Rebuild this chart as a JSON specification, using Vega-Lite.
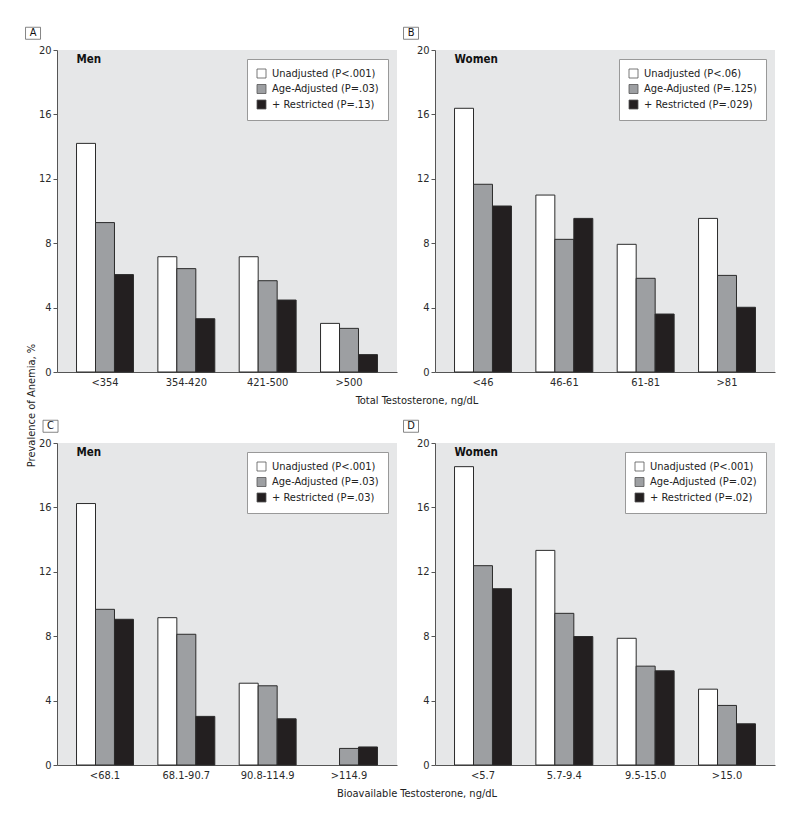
{
  "$schema": "https://vega.github.io/schema/vega-lite/v6.json",
  "autosize": {"type": "pad"},
  "padding": {"left": 23, "top": 25, "right": 5, "bottom": 5},
  "background": "white",
  "bounds": "flush",
  "columns": 2,
  "spacing": {"row": 71, "column": 38},
  "config": {
    "font": "DejaVu Sans Condensed, Liberation Sans, sans-serif",
    "view": {"fill": "#e6e7e8", "stroke": null},
    "axis": {"labelFont": "DejaVu Sans Condensed, Liberation Sans, sans-serif", "titleFont": "DejaVu Sans Condensed, Liberation Sans, sans-serif", "labelFontSize": 11, "labelColor": "#2a2a2a", "domainColor": "#555", "tickColor": "#555", "grid": false, "titleFontWeight": "normal", "titleFontSize": 11, "titleColor": "#222"},
    "axisX": {"labelAngle": 0, "ticks": false, "labelPadding": 4},
    "axisY": {"tickSize": 4, "labelPadding": 2},
    "legend": {"orient": "top-right", "offset": 9, "padding": 9, "fillColor": "white", "strokeColor": "#999", "symbolType": "square", "symbolSize": 81, "symbolStrokeColor": "#555", "symbolStrokeWidth": 0.8, "labelFontSize": 11, "labelFont": "DejaVu Sans Condensed, Liberation Sans, sans-serif", "labelOffset": 5, "rowPadding": 2.5, "labelColor": "#222"}
  },
  "data": {"values": [
    {"panel": "A", "group": "<354", "series": "Unadjusted", "label": "Unadjusted (P<.001)", "value": 14.2},
    {"panel": "A", "group": "<354", "series": "Age-Adjusted", "label": "Age-Adjusted (P=.03)", "value": 9.28},
    {"panel": "A", "group": "<354", "series": "Restricted", "label": "+ Restricted (P=.13)", "value": 6.05},
    {"panel": "A", "group": "354-420", "series": "Unadjusted", "label": "Unadjusted (P<.001)", "value": 7.16},
    {"panel": "A", "group": "354-420", "series": "Age-Adjusted", "label": "Age-Adjusted (P=.03)", "value": 6.42},
    {"panel": "A", "group": "354-420", "series": "Restricted", "label": "+ Restricted (P=.13)", "value": 3.31},
    {"panel": "A", "group": "421-500", "series": "Unadjusted", "label": "Unadjusted (P<.001)", "value": 7.16},
    {"panel": "A", "group": "421-500", "series": "Age-Adjusted", "label": "Age-Adjusted (P=.03)", "value": 5.67},
    {"panel": "A", "group": "421-500", "series": "Restricted", "label": "+ Restricted (P=.13)", "value": 4.47},
    {"panel": "A", "group": ">500", "series": "Unadjusted", "label": "Unadjusted (P<.001)", "value": 3.02},
    {"panel": "A", "group": ">500", "series": "Age-Adjusted", "label": "Age-Adjusted (P=.03)", "value": 2.71},
    {"panel": "A", "group": ">500", "series": "Restricted", "label": "+ Restricted (P=.13)", "value": 1.08},
    {"panel": "B", "group": "<46", "series": "Unadjusted", "label": "Unadjusted (P<.06)", "value": 16.38},
    {"panel": "B", "group": "<46", "series": "Age-Adjusted", "label": "Age-Adjusted (P=.125)", "value": 11.66},
    {"panel": "B", "group": "<46", "series": "Restricted", "label": "+ Restricted (P=.029)", "value": 10.31},
    {"panel": "B", "group": "46-61", "series": "Unadjusted", "label": "Unadjusted (P<.06)", "value": 10.99},
    {"panel": "B", "group": "46-61", "series": "Age-Adjusted", "label": "Age-Adjusted (P=.125)", "value": 8.24},
    {"panel": "B", "group": "46-61", "series": "Restricted", "label": "+ Restricted (P=.029)", "value": 9.54},
    {"panel": "B", "group": "61-81", "series": "Unadjusted", "label": "Unadjusted (P<.06)", "value": 7.93},
    {"panel": "B", "group": "61-81", "series": "Age-Adjusted", "label": "Age-Adjusted (P=.125)", "value": 5.82},
    {"panel": "B", "group": "61-81", "series": "Restricted", "label": "+ Restricted (P=.029)", "value": 3.6},
    {"panel": "B", "group": ">81", "series": "Unadjusted", "label": "Unadjusted (P<.06)", "value": 9.54},
    {"panel": "B", "group": ">81", "series": "Age-Adjusted", "label": "Age-Adjusted (P=.125)", "value": 6.0},
    {"panel": "B", "group": ">81", "series": "Restricted", "label": "+ Restricted (P=.029)", "value": 4.02},
    {"panel": "C", "group": "<68.1", "series": "Unadjusted", "label": "Unadjusted (P<.001)", "value": 16.24},
    {"panel": "C", "group": "<68.1", "series": "Age-Adjusted", "label": "Age-Adjusted (P=.03)", "value": 9.67},
    {"panel": "C", "group": "<68.1", "series": "Restricted", "label": "+ Restricted (P=.03)", "value": 9.05},
    {"panel": "C", "group": "68.1-90.7", "series": "Unadjusted", "label": "Unadjusted (P<.001)", "value": 9.15},
    {"panel": "C", "group": "68.1-90.7", "series": "Age-Adjusted", "label": "Age-Adjusted (P=.03)", "value": 8.12},
    {"panel": "C", "group": "68.1-90.7", "series": "Restricted", "label": "+ Restricted (P=.03)", "value": 3.02},
    {"panel": "C", "group": "90.8-114.9", "series": "Unadjusted", "label": "Unadjusted (P<.001)", "value": 5.08},
    {"panel": "C", "group": "90.8-114.9", "series": "Age-Adjusted", "label": "Age-Adjusted (P=.03)", "value": 4.92},
    {"panel": "C", "group": "90.8-114.9", "series": "Restricted", "label": "+ Restricted (P=.03)", "value": 2.87},
    {"panel": "C", "group": ">114.9", "series": "Age-Adjusted", "label": "Age-Adjusted (P=.03)", "value": 1.03},
    {"panel": "C", "group": ">114.9", "series": "Restricted", "label": "+ Restricted (P=.03)", "value": 1.12},
    {"panel": "D", "group": "<5.7", "series": "Unadjusted", "label": "Unadjusted (P<.001)", "value": 18.53},
    {"panel": "D", "group": "<5.7", "series": "Age-Adjusted", "label": "Age-Adjusted (P=.02)", "value": 12.38},
    {"panel": "D", "group": "<5.7", "series": "Restricted", "label": "+ Restricted (P=.02)", "value": 10.95},
    {"panel": "D", "group": "5.7-9.4", "series": "Unadjusted", "label": "Unadjusted (P<.001)", "value": 13.33},
    {"panel": "D", "group": "5.7-9.4", "series": "Age-Adjusted", "label": "Age-Adjusted (P=.02)", "value": 9.42},
    {"panel": "D", "group": "5.7-9.4", "series": "Restricted", "label": "+ Restricted (P=.02)", "value": 7.98},
    {"panel": "D", "group": "9.5-15.0", "series": "Unadjusted", "label": "Unadjusted (P<.001)", "value": 7.87},
    {"panel": "D", "group": "9.5-15.0", "series": "Age-Adjusted", "label": "Age-Adjusted (P=.02)", "value": 6.14},
    {"panel": "D", "group": "9.5-15.0", "series": "Restricted", "label": "+ Restricted (P=.02)", "value": 5.85},
    {"panel": "D", "group": ">15.0", "series": "Unadjusted", "label": "Unadjusted (P<.001)", "value": 4.71},
    {"panel": "D", "group": ">15.0", "series": "Age-Adjusted", "label": "Age-Adjusted (P=.02)", "value": 3.7},
    {"panel": "D", "group": ">15.0", "series": "Restricted", "label": "+ Restricted (P=.02)", "value": 2.56}
  ]},
  "resolve": {"scale": {"fill": "independent"}, "legend": {"fill": "independent"}},
  "concat": [
    {
      "width": 340, "height": 322,
      "transform": [{"filter": "datum.panel === 'A'"}],
      "layer": [
        {
          "mark": {"type": "bar", "stroke": "#2b2b2b", "strokeWidth": 1},
          "encoding": {
            "x": {"field": "group", "type": "nominal", "sort": ["<354", "354-420", "421-500", ">500"], "scale": {"paddingInner": 0.3, "paddingOuter": 0.24}, "axis": {"title": "Total Testosterone, ng/dL", "titleX": 359.5, "titleY": 28, "titleAlign": "center", "titleBaseline": "middle"}},
            "xOffset": {"field": "series", "type": "nominal", "scale": {"domain": ["Unadjusted", "Age-Adjusted", "Restricted"], "paddingInner": 0, "paddingOuter": 0}},
            "y": {"field": "value", "type": "quantitative", "stack": null, "scale": {"domain": [0, 20], "nice": false}, "axis": {"values": [0, 4, 8, 12, 16, 20], "title": "Prevalence of Anemia, %", "titleX": -26, "titleY": 355, "titleAlign": "center", "titleBaseline": "middle"}},
            "fill": {"field": "label", "type": "nominal", "scale": {"domain": ["Unadjusted (P<.001)", "Age-Adjusted (P=.03)", "+ Restricted (P=.13)"], "range": ["#ffffff", "#9d9fa2", "#231f20"]}, "legend": {"title": null}}
          }
        },
        {
          "data": {"values": [{}]},
          "mark": {"type": "text", "text": "Men", "align": "left", "baseline": "middle", "fontWeight": "bold", "fontSize": 11.5, "color": "#111"},
          "encoding": {"x": {"datum": "<354", "bandPosition": 0}, "y": {"datum": 19.4}}
        },
        {
          "data": {"values": [{}]},
          "mark": {"type": "text", "text": "A", "align": "center", "baseline": "middle", "fontSize": 11, "xOffset": -43.5, "color": "#111"},
          "encoding": {"x": {"datum": "<354", "bandPosition": 0}, "y": {"datum": 21.04}}
        },
        {
          "data": {"values": [{}]},
          "mark": {"type": "point", "shape": "M-1,-0.8H1V0.8H-1Z", "size": 225, "filled": false, "stroke": "#666", "strokeWidth": 0.8, "opacity": 1, "xOffset": -43.5},
          "encoding": {"x": {"datum": "<354", "bandPosition": 0}, "y": {"datum": 21.04}}
        }
      ]
    },
    {
      "width": 340, "height": 322,
      "transform": [{"filter": "datum.panel === 'B'"}],
      "layer": [
        {
          "mark": {"type": "bar", "stroke": "#2b2b2b", "strokeWidth": 1},
          "encoding": {
            "x": {"field": "group", "type": "nominal", "sort": ["<46", "46-61", "61-81", ">81"], "scale": {"paddingInner": 0.3, "paddingOuter": 0.24}, "axis": {"title": null}},
            "xOffset": {"field": "series", "type": "nominal", "scale": {"domain": ["Unadjusted", "Age-Adjusted", "Restricted"], "paddingInner": 0, "paddingOuter": 0}},
            "y": {"field": "value", "type": "quantitative", "stack": null, "scale": {"domain": [0, 20], "nice": false}, "axis": {"values": [0, 4, 8, 12, 16, 20], "title": null}},
            "fill": {"field": "label", "type": "nominal", "scale": {"domain": ["Unadjusted (P<.06)", "Age-Adjusted (P=.125)", "+ Restricted (P=.029)"], "range": ["#ffffff", "#9d9fa2", "#231f20"]}, "legend": {"title": null}}
          }
        },
        {
          "data": {"values": [{}]},
          "mark": {"type": "text", "text": "Women", "align": "left", "baseline": "middle", "fontWeight": "bold", "fontSize": 11.5, "color": "#111"},
          "encoding": {"x": {"datum": "<46", "bandPosition": 0}, "y": {"datum": 19.4}}
        },
        {
          "data": {"values": [{}]},
          "mark": {"type": "text", "text": "B", "align": "center", "baseline": "middle", "fontSize": 11, "xOffset": -43.5, "color": "#111"},
          "encoding": {"x": {"datum": "<46", "bandPosition": 0}, "y": {"datum": 21.04}}
        },
        {
          "data": {"values": [{}]},
          "mark": {"type": "point", "shape": "M-1,-0.8H1V0.8H-1Z", "size": 225, "filled": false, "stroke": "#666", "strokeWidth": 0.8, "opacity": 1, "xOffset": -43.5},
          "encoding": {"x": {"datum": "<46", "bandPosition": 0}, "y": {"datum": 21.04}}
        }
      ]
    },
    {
      "width": 340, "height": 322,
      "transform": [{"filter": "datum.panel === 'C'"}],
      "layer": [
        {
          "mark": {"type": "bar", "stroke": "#2b2b2b", "strokeWidth": 1},
          "encoding": {
            "x": {"field": "group", "type": "nominal", "sort": ["<68.1", "68.1-90.7", "90.8-114.9", ">114.9"], "scale": {"paddingInner": 0.3, "paddingOuter": 0.24}, "axis": {"title": "Bioavailable Testosterone, ng/dL", "titleX": 359.5, "titleY": 28, "titleAlign": "center", "titleBaseline": "middle"}},
            "xOffset": {"field": "series", "type": "nominal", "scale": {"domain": ["Unadjusted", "Age-Adjusted", "Restricted"], "paddingInner": 0, "paddingOuter": 0}},
            "y": {"field": "value", "type": "quantitative", "stack": null, "scale": {"domain": [0, 20], "nice": false}, "axis": {"values": [0, 4, 8, 12, 16, 20], "title": null}},
            "fill": {"field": "label", "type": "nominal", "scale": {"domain": ["Unadjusted (P<.001)", "Age-Adjusted (P=.03)", "+ Restricted (P=.03)"], "range": ["#ffffff", "#9d9fa2", "#231f20"]}, "legend": {"title": null}}
          }
        },
        {
          "data": {"values": [{}]},
          "mark": {"type": "text", "text": "Men", "align": "left", "baseline": "middle", "fontWeight": "bold", "fontSize": 11.5, "color": "#111"},
          "encoding": {"x": {"datum": "<68.1", "bandPosition": 0}, "y": {"datum": 19.4}}
        },
        {
          "data": {"values": [{}]},
          "mark": {"type": "text", "text": "C", "align": "center", "baseline": "middle", "fontSize": 11, "xOffset": -26, "color": "#111"},
          "encoding": {"x": {"datum": "<68.1", "bandPosition": 0}, "y": {"datum": 21.04}}
        },
        {
          "data": {"values": [{}]},
          "mark": {"type": "point", "shape": "M-1,-0.8H1V0.8H-1Z", "size": 225, "filled": false, "stroke": "#666", "strokeWidth": 0.8, "opacity": 1, "xOffset": -26},
          "encoding": {"x": {"datum": "<68.1", "bandPosition": 0}, "y": {"datum": 21.04}}
        }
      ]
    },
    {
      "width": 340, "height": 322,
      "transform": [{"filter": "datum.panel === 'D'"}],
      "layer": [
        {
          "mark": {"type": "bar", "stroke": "#2b2b2b", "strokeWidth": 1},
          "encoding": {
            "x": {"field": "group", "type": "nominal", "sort": ["<5.7", "5.7-9.4", "9.5-15.0", ">15.0"], "scale": {"paddingInner": 0.3, "paddingOuter": 0.24}, "axis": {"title": null}},
            "xOffset": {"field": "series", "type": "nominal", "scale": {"domain": ["Unadjusted", "Age-Adjusted", "Restricted"], "paddingInner": 0, "paddingOuter": 0}},
            "y": {"field": "value", "type": "quantitative", "stack": null, "scale": {"domain": [0, 20], "nice": false}, "axis": {"values": [0, 4, 8, 12, 16, 20], "title": null}},
            "fill": {"field": "label", "type": "nominal", "scale": {"domain": ["Unadjusted (P<.001)", "Age-Adjusted (P=.02)", "+ Restricted (P=.02)"], "range": ["#ffffff", "#9d9fa2", "#231f20"]}, "legend": {"title": null}}
          }
        },
        {
          "data": {"values": [{}]},
          "mark": {"type": "text", "text": "Women", "align": "left", "baseline": "middle", "fontWeight": "bold", "fontSize": 11.5, "color": "#111"},
          "encoding": {"x": {"datum": "<5.7", "bandPosition": 0}, "y": {"datum": 19.4}}
        },
        {
          "data": {"values": [{}]},
          "mark": {"type": "text", "text": "D", "align": "center", "baseline": "middle", "fontSize": 11, "xOffset": -43.5, "color": "#111"},
          "encoding": {"x": {"datum": "<5.7", "bandPosition": 0}, "y": {"datum": 21.04}}
        },
        {
          "data": {"values": [{}]},
          "mark": {"type": "point", "shape": "M-1,-0.8H1V0.8H-1Z", "size": 225, "filled": false, "stroke": "#666", "strokeWidth": 0.8, "opacity": 1, "xOffset": -43.5},
          "encoding": {"x": {"datum": "<5.7", "bandPosition": 0}, "y": {"datum": 21.04}}
        }
      ]
    }
  ]
}
